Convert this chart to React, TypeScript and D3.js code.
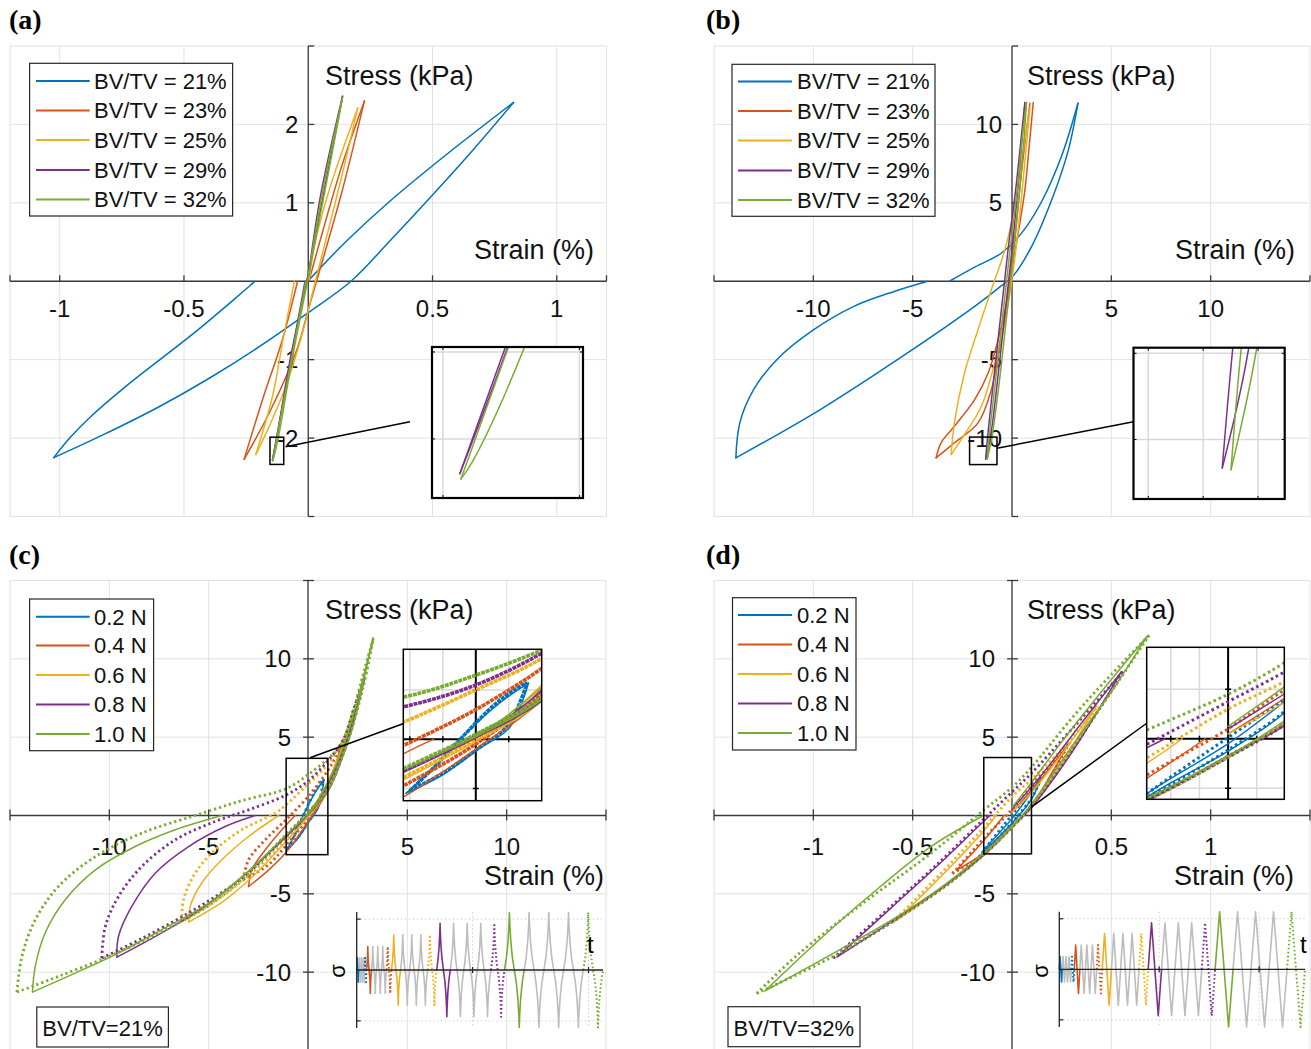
import React from 'react';
import * as d3 from 'd3';

type P = [number, number];
type Branch = P[];

const COLORS = ['#0072BD', '#D95319', '#EDB120', '#7E2F8E', '#77AC30'];
const GRID = '#e2e2e2';
const AXIS = '#3a3a3a';
const SIG_GREY = '#bdbdbd';
const FONT = '"Liberation Sans", Arial, Helvetica, sans-serif';
const SERIF = '"Liberation Serif", "Times New Roman", serif';

const bvtvLabels = ['BV/TV = 21%', 'BV/TV = 23%', 'BV/TV = 25%', 'BV/TV = 29%', 'BV/TV = 32%'];
const forceLabels = ['0.2 N', '0.4 N', '0.6 N', '0.8 N', '1.0 N'];

const aXTicks = [-1, -0.5, 0.5, 1];
const aYTicks = [-2, -1, 1, 2];
const bXTicks = [-10, -5, 5, 10];
const bYTicks = [-10, -5, 5, 10];
const cXTicks = [-10, -5, 5, 10];
const cYTicks = [-10, -5, 5, 10];
const dXTicks = [-1, -0.5, 0.5, 1];
const dYTicks = [-10, -5, 5, 10];

// ---------- Panel (a): strain %, stress kPa ----------
const aBlueUpper: Branch = [[-1.024, -2.25], [-0.96, -2.0], [-0.88, -1.74], [-0.734, -1.34], [-0.444, -0.62], [-0.214, 0]];
const aBlueLower: Branch = [[-1.024, -2.25], [-0.82, -1.95], [-0.6, -1.6], [-0.4, -1.24], [-0.2, -0.84], [0, -0.4], [0.172, 0], [0.33, 0.52], [0.5, 1.1], [0.67, 1.7], [0.826, 2.28]];
const aBlueReturn: Branch = [[0.826, 2.28], [0.55, 1.6], [0.327, 1.017], [0.15, 0.5], [0.004, 0.02]];
const aRedUpper: Branch = [[-0.258, -2.27], [-0.184, -1.51], [-0.104, -0.745], [-0.043, 0]];
const aRedLower: Branch = [[-0.258, -2.27], [-0.157, -1.68], [-0.05, -0.91], [0.004, -0.32], [0.058, 0.27], [0.138, 1.17], [0.226, 2.3]];
const aRedReturn: Branch = [[0.226, 2.3], [0.138, 1.5], [0.071, 0.78], [0.004, 0.02]];
const aYelUpper: Branch = [[-0.211, -2.21], [-0.144, -1.47], [-0.1, -0.72], [-0.056, 0]];
const aYelLower: Branch = [[-0.211, -2.21], [-0.157, -1.85], [-0.09, -1.34], [-0.023, -0.66], [0.017, -0.15], [0.071, 0.53], [0.138, 1.38], [0.199, 2.21]];
const aYelReturn: Branch = [[0.199, 2.21], [0.085, 1.17], [0.024, 0.44], [0.004, 0.02]];
const aPurUpper: Branch = [[-0.1438, -2.28], [-0.1271, -1.9885], [-0.07, -1.0], [-0.013, 0]];
const aPurLower: Branch = [[-0.1438, -2.28], [-0.1263, -1.9885], [-0.07, -0.95], [0, 0.1], [0.07, 1.25], [0.138, 2.36]];
const aPurReturn: Branch = [[0.138, 2.36], [0.05, 1.1], [0, 0.05]];
const aGrnUpper: Branch = [[-0.1434, -2.292], [-0.126, -1.9885], [-0.068, -1.0], [-0.01, 0]];
const aGrnLower: Branch = [[-0.1434, -2.292], [-0.1395, -2.256], [-0.1201, -1.9885], [-0.065, -1.0], [0, 0.05], [0.07, 1.2], [0.138, 2.34]];
const aGrnReturn: Branch = [[0.138, 2.34], [0.055, 1.1], [0, 0.05]];

// ---------- Panel (b) ----------
const bBlueUpper: Branch = [[-13.9, -11.26], [-13.7, -9.03], [-13.0, -6.9], [-11.84, -5.0], [-9.98, -3.09], [-7.96, -1.6], [-5.93, -0.65], [-4.24, 0]];
const bBlueLower: Branch = [[-13.9, -11.26], [-9.65, -8.18], [-5.26, -4.57], [-1.88, -1.6], [-0.7, -0.45], [0.06, 0.35], [0.99, 2.22], [2.0, 5.19], [2.84, 8.38], [3.32, 11.35]];
const bBlueReturn: Branch = [[3.32, 11.35], [2.5, 8.0], [1.5, 5.1], [0.5, 3.1], [-0.53, 1.8], [-1.88, 0.9], [-3.15, 0]];
const bRedUpper: Branch = [[-3.82, -11.26], [-3.57, -10.3], [-2.9, -9.25], [-1.88, -7.55], [-1.2, -5.85], [-0.7, -3.73], [-0.28, -1.39], [-0.03, 0.52], [0.31, 3.07], [0.65, 5.83], [0.88, 8.8], [1.07, 11.39]];
const bRedLower: Branch = [[-3.82, -11.26], [-2.9, -10.3], [-1.71, -9.03], [-1.04, -6.91], [-0.7, -4.79], [-0.36, -2.24], [-0.11, 0.1], [0.2, 3.5], [0.5, 7.2], [0.9, 11.35]];
const bYelUpper: Branch = [[-3.06, -11.05], [-2.9, -9.03], [-2.39, -5.85], [-1.71, -3.09], [-1.04, -0.54], [-0.36, 2.0], [0.14, 4.77], [0.5, 7.8], [0.9, 11.03]];
const bYelLower: Branch = [[-3.06, -11.05], [-2.56, -10.1], [-1.54, -7.97], [-0.87, -5.21], [-0.36, -2.66], [-0.03, -0.12], [0.31, 3.28], [0.6, 7.0], [0.9, 11.03]];
const bPurUpper: Branch = [[-1.326, -11.33], [-1.23, -9.935], [-0.9, -6], [-0.55, -2], [-0.2, 2], [0.2, 6], [0.45, 9], [0.65, 11.39]];
const bPurLower: Branch = [[-1.326, -11.33], [-1.084, -9.935], [-0.7, -6], [-0.35, -2], [0, 2], [0.3, 6], [0.5, 9], [0.65, 11.39]];
const bGrnUpper: Branch = [[-1.246, -11.35], [-1.153, -9.935], [-0.8, -6], [-0.45, -2], [-0.1, 2], [0.28, 6], [0.5, 9], [0.73, 11.39]];
const bGrnLower: Branch = [[-1.246, -11.35], [-1.011, -9.935], [-0.6, -6], [-0.25, -2], [0.1, 2], [0.4, 6], [0.6, 9], [0.73, 11.39]];

// ---------- Panel (c): BV/TV = 21%, five forces, solid + dotted ----------
const cBlueSolidUpper: Branch = [[-1.06, -2.2], [-0.66, -1.21], [-0.26, -0.05], [0.35, 1.44], [0.8, 2.28]];
const cBlueSolidLower: Branch = [[-1.06, -2.2], [-0.5, -1.45], [0.01, -0.46], [0.52, 0.49], [0.8, 2.28]];
const cBlueDotUpper: Branch = [[-1.0, -2.1], [-0.6, -1.05], [-0.2, 0.1], [0.35, 1.55], [0.78, 2.3]];
const cBlueDotLower: Branch = [[-1.0, -2.1], [-0.45, -1.3], [0.05, -0.35], [0.5, 0.6], [0.78, 2.3]];
const cRedSolidUpper: Branch = [[-2.99, -4.53], [-2.83, -3.47], [-2.15, -2.19], [-1.1, -0.6], [-0.64, 0]];
const cRedSolidLower: Branch = [[-2.99, -4.53], [-2.0, -3.5], [-1.1, -2.35], [0, -0.4], [1.0, 1.58], [1.4, 3.0], [1.67, 4.4]];
const cRedSolidReturn: Branch = [[1.67, 4.4], [1.2, 2.6], [0.6, 1.1], [0, 0.1]];
const cRedDotUpper: Branch = [[-3.25, -4.1], [-2.99, -2.83], [-2.15, -1.55], [-1.1, -0.26], [0, 1.2], [1.0, 2.87], [1.3, 3.5], [1.67, 4.4]];
const cRedDotLower: Branch = [[-3.25, -4.1], [-2.0, -3.15], [-1.1, -1.9], [0, -0.2], [1.0, 1.85], [1.4, 3.1], [1.67, 4.4]];
const cYelSolidUpper: Branch = [[-6.01, -6.8], [-5.93, -5.8], [-5.35, -4.31], [-4.34, -2.83], [-2.99, -1.34], [-1.48, 0]];
const cYelSolidLower: Branch = [[-6.01, -6.8], [-4.34, -5.55], [-2.66, -3.75], [-1.1, -1.65], [0, -0.1], [1.0, 1.55], [1.7, 3.9], [2.3, 6.75]];
const cYelSolidReturn: Branch = [[2.3, 6.75], [1.7, 4.3], [1.0, 2.2], [0.4, 0.8], [0, 0.1]];
const cYelDotUpper: Branch = [[-6.35, -6.76], [-6.27, -5.38], [-5.68, -3.68], [-4.67, -2.19], [-3.33, -0.91], [-1.65, 0.15], [-1.1, 0.69], [0, 2.0], [1.0, 3.28], [1.8, 4.9], [2.3, 6.75]];
const cYelDotLower: Branch = [[-6.35, -6.76], [-4.67, -5.45], [-2.99, -3.85], [-1.1, -1.55], [0, 0], [1.0, 1.7], [1.7, 4.0], [2.3, 6.75]];
const cPurSolidUpper: Branch = [[-9.62, -9.04], [-9.54, -7.72], [-8.87, -5.8], [-7.69, -3.68], [-6.01, -1.98], [-4.17, -0.7], [-2.66, 0]];
const cPurSolidLower: Branch = [[-9.62, -9.04], [-7.52, -7.6], [-5.35, -5.95], [-3.2, -3.8], [-1.1, -1.35], [0, 0.05], [1.0, 1.55], [1.7, 3.6], [2.3, 6.0], [2.84, 8.77]];
const cPurSolidReturn: Branch = [[2.84, 8.77], [2.2, 5.8], [1.5, 3.3], [0.7, 1.3], [0, 0.1]];
const cPurDotUpper: Branch = [[-10.38, -9.1], [-10.2, -7.08], [-9.54, -5.17], [-8.36, -3.25], [-6.68, -1.55], [-4.67, -0.38], [-2.99, 0.36], [-1.1, 1.31], [0, 2.2], [1.0, 3.49], [1.8, 4.9], [2.3, 6.8], [2.84, 8.77]];
const cPurDotLower: Branch = [[-10.38, -9.1], [-8.36, -7.85], [-5.85, -6.1], [-3.33, -4.0], [-1.1, -1.3], [0, 0.15], [1.0, 1.65], [1.7, 3.7], [2.3, 6.1], [2.84, 8.77]];
const cGrnSolidUpper: Branch = [[-13.87, -11.27], [-13.73, -9.64], [-13.23, -7.5], [-12.22, -5.38], [-10.7, -3.47], [-8.7, -1.98], [-6.68, -0.91], [-4.34, 0]];
const cGrnSolidLower: Branch = [[-13.87, -11.27], [-11.72, -10.06], [-9.54, -8.78], [-7.36, -7.29], [-5.0, -5.59], [-3.0, -3.55], [-1.1, -1.25], [0, 0.1], [1.0, 1.6], [1.6, 3.3], [2.2, 5.4], [2.73, 8.2], [3.27, 11.32]];
const cGrnSolidReturn: Branch = [[3.27, 11.32], [2.6, 7.9], [2.0, 5.2], [1.3, 2.9], [0.5, 1.0], [0, 0.15]];
const cGrnDotUpper: Branch = [[-14.65, -11.27], [-14.4, -9.0], [-13.73, -6.66], [-12.56, -4.53], [-10.7, -2.62], [-8.36, -1.12], [-5.68, 0], [-3.33, 0.95], [-1.1, 1.71], [0, 2.6], [1.0, 3.62], [1.6, 4.4], [2.2, 6.3], [2.75, 8.9], [3.3, 11.35]];
const cGrnDotLower: Branch = [[-14.65, -11.27], [-12.56, -10.27], [-10.04, -9.0], [-7.52, -7.5], [-5.0, -5.75], [-3.0, -3.7], [-1.1, -1.2], [0, 0.2], [1.0, 1.7], [1.6, 3.4], [2.2, 5.5], [2.8, 8.3], [3.3, 11.35]];

// ---------- Panel (d): BV/TV = 32% ----------
const dBlueSolidUpper: Branch = [[-0.155, -2.55], [-0.14, -2.2], [0, -0.2], [0.098, 1.5], [0.145, 2.4]];
const dBlueSolidLower: Branch = [[-0.155, -2.55], [-0.107, -1.88], [0, -0.5], [0.098, 1.05], [0.145, 2.4]];
const dBlueDotUpper: Branch = [[-0.165, -2.65], [-0.142, -2.23], [0, 0.05], [0.098, 1.6], [0.15, 2.45]];
const dBlueDotLower: Branch = [[-0.165, -2.65], [-0.1, -1.85], [0, -0.45], [0.098, 1.1], [0.15, 2.45]];
const dRedSolidUpper: Branch = [[-0.28, -3.49], [-0.142, -1.6], [-0.04, 0]];
const dRedSolidLower: Branch = [[-0.28, -3.49], [-0.142, -2.4], [0, -0.68], [0.098, 0.62], [0.2, 2.7], [0.286, 4.6]];
const dRedSolidReturn: Branch = [[0.286, 4.6], [0.15, 2.4], [0, 0.2]];
const dRedDotUpper: Branch = [[-0.3, -3.7], [-0.142, -1.47], [0, 0.4], [0.098, 1.97], [0.2, 3.3], [0.29, 4.65]];
const dRedDotLower: Branch = [[-0.3, -3.7], [-0.142, -2.45], [0, -0.7], [0.098, 0.6], [0.2, 2.6], [0.29, 4.65]];
const dYelSolidUpper: Branch = [[-0.58, -6.68], [-0.35, -3.8], [-0.142, -0.99], [-0.08, 0]];
const dYelSolidLower: Branch = [[-0.58, -6.68], [-0.33, -4.35], [-0.142, -2.45], [0, -0.7], [0.098, 0.6], [0.25, 3.3], [0.42, 6.93]];
const dYelSolidReturn: Branch = [[0.42, 6.93], [0.25, 3.9], [0.1, 1.5], [0, 0.2]];
const dYelDotUpper: Branch = [[-0.6, -6.8], [-0.35, -3.6], [-0.142, -0.78], [0, 1.2], [0.098, 2.31], [0.3, 4.9], [0.43, 7.0]];
const dYelDotLower: Branch = [[-0.6, -6.8], [-0.33, -4.4], [-0.142, -2.5], [0, -0.75], [0.098, 0.6], [0.25, 3.2], [0.43, 7.0]];
const dPurSolidUpper: Branch = [[-0.88, -9.02], [-0.6, -5.8], [-0.35, -2.9], [-0.142, -0.37], [-0.11, 0]];
const dPurSolidLower: Branch = [[-0.88, -9.02], [-0.58, -6.55], [-0.33, -4.4], [-0.142, -2.5], [0, -0.7], [0.098, 0.52], [0.3, 4.0], [0.55, 9.16]];
const dPurSolidReturn: Branch = [[0.55, 9.16], [0.35, 5.9], [0.15, 2.6], [0, 0.4]];
const dPurDotUpper: Branch = [[-0.9, -9.1], [-0.6, -5.7], [-0.35, -2.8], [-0.142, -0.23], [0, 1.5], [0.098, 2.7], [0.3, 5.5], [0.56, 9.2]];
const dPurDotLower: Branch = [[-0.9, -9.1], [-0.58, -6.6], [-0.33, -4.45], [-0.142, -2.5], [0, -0.75], [0.098, 0.55], [0.3, 4.1], [0.56, 9.2]];
const dGrnSolidUpper: Branch = [[-1.243, -11.19], [-0.916, -7.31], [-0.664, -4.55], [-0.41, -2.0], [-0.144, 0]];
const dGrnSolidLower: Branch = [[-1.243, -11.19], [-0.916, -8.91], [-0.58, -6.47], [-0.33, -4.34], [-0.142, -2.4], [0, -0.7], [0.098, 0.73], [0.3, 4.4], [0.5, 7.9], [0.68, 11.44]];
const dGrnSolidReturn: Branch = [[0.68, 11.44], [0.45, 7.9], [0.25, 4.7], [0.098, 2.1], [0, 0.5]];
const dGrnDotUpper: Branch = [[-1.285, -11.36], [-1.08, -8.9], [-0.75, -5.6], [-0.41, -2.43], [-0.142, 0.35], [0, 1.8], [0.098, 3.07], [0.307, 6.3], [0.5, 9.0], [0.69, 11.5]];
const dGrnDotLower: Branch = [[-1.285, -11.36], [-0.916, -9.1], [-0.58, -6.6], [-0.33, -4.45], [-0.142, -2.5], [0, -0.75], [0.098, 0.65], [0.3, 4.3], [0.5, 7.9], [0.69, 11.5]];

// ---------- Loading history insets ----------
const sigPattern = ['solid', 'grey', 'grey', 'grey', 'dotted'];
const sigAmpC = [0.24, 0.46, 0.69, 0.92, 1.13];
const sigPeriodC = [0.17, 0.43, 0.78, 1.17, 1.7];
const sigAmpD = [0.25, 0.48, 0.71, 0.92, 1.14];
const sigPeriodD = [0.3, 0.56, 0.92, 1.34, 1.8];
const cycleShapeC: P[] = [[0, 0], [0.1, 0.22], [0.18, 0.5], [0.23, 0.8], [0.25, 1], [0.27, 0.8], [0.32, 0.5], [0.4, 0.22], [0.5, 0], [0.6, -0.22], [0.68, -0.5], [0.73, -0.8], [0.75, -1], [0.77, -0.8], [0.82, -0.5], [0.9, -0.22], [1, 0]];
const cycleShapeD: P[] = [[0, 0], [0.25, 1], [0.75, -1], [1, 0]];

interface SeriesDef { color: string; dotted: boolean; branches: Branch[] }
const S = (color: string, dotted: boolean, branches: Branch[]): SeriesDef => ({ color, dotted, branches });

const seriesA: SeriesDef[] = [
  S(COLORS[0], false, [aBlueUpper, aBlueLower, aBlueReturn]),
  S(COLORS[1], false, [aRedUpper, aRedLower, aRedReturn]),
  S(COLORS[2], false, [aYelUpper, aYelLower, aYelReturn]),
  S(COLORS[3], false, [aPurUpper, aPurLower, aPurReturn]),
  S(COLORS[4], false, [aGrnUpper, aGrnLower, aGrnReturn]),
];
const seriesB: SeriesDef[] = [
  S(COLORS[0], false, [bBlueUpper, bBlueLower, bBlueReturn]),
  S(COLORS[1], false, [bRedUpper, bRedLower]),
  S(COLORS[2], false, [bYelUpper, bYelLower]),
  S(COLORS[3], false, [bPurUpper, bPurLower]),
  S(COLORS[4], false, [bGrnUpper, bGrnLower]),
];
const seriesC: SeriesDef[] = [
  S(COLORS[0], false, [cBlueSolidUpper, cBlueSolidLower]),
  S(COLORS[0], true, [cBlueDotUpper, cBlueDotLower]),
  S(COLORS[1], false, [cRedSolidUpper, cRedSolidLower, cRedSolidReturn]),
  S(COLORS[1], true, [cRedDotUpper, cRedDotLower]),
  S(COLORS[2], false, [cYelSolidUpper, cYelSolidLower, cYelSolidReturn]),
  S(COLORS[2], true, [cYelDotUpper, cYelDotLower]),
  S(COLORS[3], false, [cPurSolidUpper, cPurSolidLower, cPurSolidReturn]),
  S(COLORS[3], true, [cPurDotUpper, cPurDotLower]),
  S(COLORS[4], false, [cGrnSolidUpper, cGrnSolidLower, cGrnSolidReturn]),
  S(COLORS[4], true, [cGrnDotUpper, cGrnDotLower]),
];
const seriesD: SeriesDef[] = [
  S(COLORS[0], false, [dBlueSolidUpper, dBlueSolidLower]),
  S(COLORS[0], true, [dBlueDotUpper, dBlueDotLower]),
  S(COLORS[1], false, [dRedSolidUpper, dRedSolidLower, dRedSolidReturn]),
  S(COLORS[1], true, [dRedDotUpper, dRedDotLower]),
  S(COLORS[2], false, [dYelSolidUpper, dYelSolidLower, dYelSolidReturn]),
  S(COLORS[2], true, [dYelDotUpper, dYelDotLower]),
  S(COLORS[3], false, [dPurSolidUpper, dPurSolidLower, dPurSolidReturn]),
  S(COLORS[3], true, [dPurDotUpper, dPurDotLower]),
  S(COLORS[4], false, [dGrnSolidUpper, dGrnSolidLower, dGrnSolidReturn]),
  S(COLORS[4], true, [dGrnDotUpper, dGrnDotLower]),
];

interface LineStyle { solidW: number; dotW: number; dash: string }

function SeriesPaths({ series, line, st, prefix }: { series: SeriesDef[]; line: any; st: LineStyle; prefix: string }) {
  return (
    <>
      {series.map((s, i) =>
        s.branches.map((b, j) => (
          <path
            key={`${prefix}-${i}-${j}`}
            d={line(b) || ''}
            fill="none"
            stroke={s.color}
            strokeWidth={s.dotted ? st.dotW : st.solidW}
            strokeDasharray={s.dotted ? st.dash : undefined}
            strokeLinejoin="round"
            strokeLinecap={s.dotted ? 'butt' : 'round'}
          />
        ))
      )}
    </>
  );
}

interface InsetCfg {
  box: [number, number, number, number];
  xDom: [number, number];
  yDom: [number, number];
  gridX: number[];
  gridY: number[];
  connector: [number, number, number, number];
  border: number;
  axesInside: boolean;
  st: LineStyle;
}

interface SigCfg {
  x0: number; x1: number; yTop: number; yBot: number; total: number;
  amps: number[]; periods: number[]; shape: P[]; ticks: number[];
  sigmaPos: [number, number]; tPos: [number, number];
}

interface PanelCfg {
  id: string;
  box: { l: number; t: number; r: number; b: number };
  xDom: [number, number]; yDom: [number, number];
  xTicks: number[]; yTicks: number[];
  tickBoth: boolean;
  xLabelBase: number; yLabelGap: number;
  label: string; labelPos: [number, number];
  stressPos: [number, number]; strainPos: [number, number];
  legend: { x: number; y: number; w: number; h: number; labels: string[]; rows: number[]; lx0: number; lx1: number; tx: number };
  series: SeriesDef[];
  st: LineStyle;
  inset: InsetCfg;
  bvtv?: { x: number; y: number; w: number; h: number; text: string };
  sig?: SigCfg;
}

function Inset({ cfg, series, xs, ys, id }: { cfg: InsetCfg; series: SeriesDef[]; xs: any; ys: any; id: string }) {
  const [bx0, by0, bx1, by1] = cfg.box;
  const ix = d3.scaleLinear().domain(cfg.xDom).range([bx0, bx1]);
  const iy = d3.scaleLinear().domain(cfg.yDom).range([by1, by0]);
  const line = d3.line<P>().x(d => ix(d[0])).y(d => iy(d[1])).curve(d3.curveCatmullRom.alpha(0.5));
  const clipId = `inset-clip-${id}`;
  const hasX0 = cfg.axesInside && cfg.xDom[0] < 0 && cfg.xDom[1] > 0;
  const hasY0 = cfg.axesInside && cfg.yDom[0] < 0 && cfg.yDom[1] > 0;
  const rx0 = xs(cfg.xDom[0]), rx1 = xs(cfg.xDom[1]);
  const ry0 = ys(cfg.yDom[1]), ry1 = ys(cfg.yDom[0]);
  return (
    <g>
      <rect x={rx0} y={ry0} width={rx1 - rx0} height={ry1 - ry0} fill="none" stroke="#000" strokeWidth={1.5} />
      <line x1={cfg.connector[0]} y1={cfg.connector[1]} x2={cfg.connector[2]} y2={cfg.connector[3]} stroke="#000" strokeWidth={1.5} />
      <defs>
        <clipPath id={clipId}>
          <rect x={bx0} y={by0} width={bx1 - bx0} height={by1 - by0} />
        </clipPath>
      </defs>
      <rect x={bx0} y={by0} width={bx1 - bx0} height={by1 - by0} fill="#fff" />
      <g clipPath={`url(#${clipId})`}>
        {cfg.gridX.map(v => (
          <line key={'igx' + v} x1={ix(v)} x2={ix(v)} y1={by0} y2={by1} stroke="#d9d9d9" strokeWidth={1.5} />
        ))}
        {cfg.gridY.map(v => (
          <line key={'igy' + v} y1={iy(v)} y2={iy(v)} x1={bx0} x2={bx1} stroke="#d9d9d9" strokeWidth={1.5} />
        ))}
        {hasY0 && <line x1={bx0} x2={bx1} y1={iy(0)} y2={iy(0)} stroke="#000" strokeWidth={2} />}
        {hasX0 && <line x1={ix(0)} x2={ix(0)} y1={by0} y2={by1} stroke="#000" strokeWidth={2} />}
        {hasY0 && cfg.gridX.filter(v => v !== 0).map(v => (
          <line key={'itx' + v} x1={ix(v)} x2={ix(v)} y1={iy(0) - 3} y2={iy(0) + 3} stroke="#000" strokeWidth={1.5} />
        ))}
        {hasX0 && cfg.gridY.filter(v => v !== 0).map(v => (
          <line key={'ity' + v} y1={iy(v)} y2={iy(v)} x1={ix(0) - 3} x2={ix(0) + 3} stroke="#000" strokeWidth={1.5} />
        ))}
        {!cfg.axesInside && cfg.gridX.map(v => (
          <g key={'btx' + v}>
            <line x1={ix(v)} x2={ix(v)} y1={by0} y2={by0 + 3} stroke="#000" strokeWidth={1} />
            <line x1={ix(v)} x2={ix(v)} y1={by1} y2={by1 - 3} stroke="#000" strokeWidth={1} />
          </g>
        ))}
        {!cfg.axesInside && cfg.gridY.map(v => (
          <g key={'bty' + v}>
            <line y1={iy(v)} y2={iy(v)} x1={bx0} x2={bx0 + 3} stroke="#000" strokeWidth={1} />
            <line y1={iy(v)} y2={iy(v)} x1={bx1} x2={bx1 - 3} stroke="#000" strokeWidth={1} />
          </g>
        ))}
        <SeriesPaths series={series} line={line} st={cfg.st} prefix={'in' + id} />
      </g>
      <rect x={bx0} y={by0} width={bx1 - bx0} height={by1 - by0} fill="none" stroke="#000" strokeWidth={cfg.border} />
    </g>
  );
}

function SignalInset({ cfg }: { cfg: SigCfg }) {
  const tx = d3.scaleLinear().domain([0, cfg.total]).range([cfg.x0, cfg.x1]);
  const ty = d3.scaleLinear().domain([-1.14, 1.14]).range([cfg.yBot, cfg.yTop]);
  const line = d3.line<P>().x(d => tx(d[0])).y(d => ty(d[1]));
  const pieces: { pts: P[]; color: string; kind: string }[] = [];
  let t = 0;
  cfg.amps.forEach((amp, k) => {
    const per = cfg.periods[k];
    sigPattern.forEach(kind => {
      const start = t;
      pieces.push({
        pts: cfg.shape.map(([u, v]) => [start + u * per, v * amp] as P),
        color: kind === 'grey' ? SIG_GREY : COLORS[k],
        kind,
      });
      t += per;
    });
  });
  const order = [...pieces.filter(p => p.kind === 'grey'), ...pieces.filter(p => p.kind !== 'grey')];
  return (
    <g>
      {[-1, 1].map(v => (
        <line key={'sg' + v} x1={cfg.x0} x2={cfg.x1} y1={ty(v)} y2={ty(v)} stroke="#cfcfcf" strokeWidth={1} strokeDasharray="1.5 2.5" />
      ))}
      {cfg.ticks.map(v => (
        <line key={'sv' + v} x1={tx(v)} x2={tx(v)} y1={cfg.yTop} y2={cfg.yBot} stroke="#cfcfcf" strokeWidth={1} strokeDasharray="1.5 2.5" />
      ))}
      {order.map((p, i) => (
        <path key={'sp' + i} d={line(p.pts) || ''} fill="none" stroke={p.color}
          strokeWidth={p.kind === 'dotted' ? 2 : 1.6}
          strokeDasharray={p.kind === 'dotted' ? '1.6 2.4' : undefined}
          strokeLinejoin="round" />
      ))}
      <line x1={cfg.x0} x2={cfg.x1} y1={ty(0)} y2={ty(0)} stroke="#222" strokeWidth={1.3} />
      <line x1={cfg.x0} x2={cfg.x0} y1={cfg.yTop} y2={cfg.yBot} stroke="#222" strokeWidth={1.3} />
      {cfg.ticks.map(v => (
        <line key={'st' + v} x1={tx(v)} x2={tx(v)} y1={ty(0) - 3} y2={ty(0) + 3} stroke="#222" strokeWidth={1.2} />
      ))}
      {[-1, 1].map(v => (
        <line key={'sy' + v} x1={cfg.x0} x2={cfg.x0 + 4} y1={ty(v)} y2={ty(v)} stroke="#222" strokeWidth={1.2} />
      ))}
      <text x={cfg.sigmaPos[0]} y={cfg.sigmaPos[1]} fontSize={22} textAnchor="middle"
        transform={`rotate(-90 ${cfg.sigmaPos[0]} ${cfg.sigmaPos[1]})`}>σ</text>
      <text x={cfg.tPos[0]} y={cfg.tPos[1]} fontSize={24}>t</text>
    </g>
  );
}

function Panel({ cfg }: { cfg: PanelCfg }) {
  const { box } = cfg;
  const xs = d3.scaleLinear().domain(cfg.xDom).range([box.l, box.r]);
  const ys = d3.scaleLinear().domain(cfg.yDom).range([box.b, box.t]);
  const line = d3.line<P>().x(d => xs(d[0])).y(d => ys(d[1])).curve(d3.curveCatmullRom.alpha(0.5));
  const X0 = xs(0), Y0 = ys(0);
  const clipId = `clip-${cfg.id}`;
  const gridX = [...cfg.xTicks, 0];
  const gridY = [...cfg.yTicks, 0];
  const tickXs = [...cfg.xTicks, ...cfg.xDom];
  const tickYs = [...cfg.yTicks, ...cfg.yDom];
  const down = cfg.tickBoth ? 5 : 0;
  const lg = cfg.legend;
  return (
    <g>
      <defs>
        <clipPath id={clipId}>
          <rect x={box.l} y={box.t} width={box.r - box.l} height={box.b - box.t} />
        </clipPath>
      </defs>
      {gridX.map(v => (
        <line key={'gx' + v} x1={xs(v)} x2={xs(v)} y1={box.t} y2={box.b} stroke={GRID} strokeWidth={1} />
      ))}
      {gridY.map(v => (
        <line key={'gy' + v} y1={ys(v)} y2={ys(v)} x1={box.l} x2={box.r} stroke={GRID} strokeWidth={1} />
      ))}
      <rect x={box.l} y={box.t} width={box.r - box.l} height={box.b - box.t} fill="none" stroke={GRID} strokeWidth={1} />
      <text x={cfg.labelPos[0]} y={cfg.labelPos[1]} fontFamily={SERIF} fontWeight="bold" fontSize={28}>{cfg.label}</text>
      {cfg.xTicks.map(v => (
        <text key={'xl' + v} x={xs(v)} y={cfg.xLabelBase} fontSize={24} textAnchor="middle" fill="#111">{String(v)}</text>
      ))}
      {cfg.yTicks.map(v => (
        <text key={'yl' + v} x={X0 - cfg.yLabelGap} y={ys(v) + 8.5} fontSize={24} textAnchor="end" fill="#111">{String(v)}</text>
      ))}
      <text x={cfg.stressPos[0]} y={cfg.stressPos[1]} fontSize={27} fill="#111">Stress (kPa)</text>
      <text x={cfg.strainPos[0]} y={cfg.strainPos[1]} fontSize={27} textAnchor="end" fill="#111">Strain (%)</text>
      <line x1={box.l} x2={box.r} y1={Y0} y2={Y0} stroke={AXIS} strokeWidth={1.3} />
      <line x1={X0} x2={X0} y1={box.t} y2={box.b} stroke={AXIS} strokeWidth={1.3} />
      {tickXs.map((v, i) => (
        <line key={'tx' + i} x1={xs(v)} x2={xs(v)} y1={Y0 - 6} y2={Y0 + down} stroke={AXIS} strokeWidth={1.3} />
      ))}
      {tickYs.map((v, i) => (
        <line key={'ty' + i} y1={ys(v)} y2={ys(v)} x1={X0 - down} x2={X0 + 6} stroke={AXIS} strokeWidth={1.3} />
      ))}
      <g clipPath={`url(#${clipId})`}>
        <SeriesPaths series={cfg.series} line={line} st={cfg.st} prefix={'m' + cfg.id} />
      </g>
      <g>
        <rect x={lg.x} y={lg.y} width={lg.w} height={lg.h} fill="#fff" stroke="#262626" strokeWidth={1.2} />
        {lg.labels.map((lab, i) => (
          <g key={'lg' + i}>
            <line x1={lg.lx0} x2={lg.lx1} y1={lg.rows[i]} y2={lg.rows[i]} stroke={COLORS[i]} strokeWidth={2} />
            <text x={lg.tx} y={lg.rows[i] + 7.8} fontSize={22} fill="#111">{lab}</text>
          </g>
        ))}
      </g>
      <Inset cfg={cfg.inset} series={cfg.series} xs={xs} ys={ys} id={cfg.id} />
      {cfg.bvtv && (
        <g>
          <rect x={cfg.bvtv.x} y={cfg.bvtv.y} width={cfg.bvtv.w} height={cfg.bvtv.h} fill="#fff" stroke="#262626" strokeWidth={1.2} />
          <text x={cfg.bvtv.x + 5.5} y={cfg.bvtv.y + 29} fontSize={22} fill="#111">{cfg.bvtv.text}</text>
        </g>
      )}
      {cfg.sig && <SignalInset cfg={cfg.sig} />}
    </g>
  );
}

const stAB: LineStyle = { solidW: 1.5, dotW: 2.6, dash: '2.4 3' };
const stCD: LineStyle = { solidW: 1.5, dotW: 2.8, dash: '2.2 3' };

const panels: PanelCfg[] = [
  {
    id: 'a', box: { l: 10, t: 46, r: 606.5, b: 516.5 }, xDom: [-1.2, 1.2], yDom: [-3, 3],
    xTicks: aXTicks, yTicks: aYTicks, tickBoth: false, xLabelBase: 317, yLabelGap: 10,
    label: '(a)', labelPos: [9, 29], stressPos: [325, 85], strainPos: [594, 259],
    legend: { x: 29.6, y: 63.3, w: 203, h: 152.7, labels: bvtvLabels, rows: [81, 110.5, 140, 170, 199.5], lx0: 36, lx1: 89.7, tx: 94 },
    series: seriesA, st: stAB,
    inset: { box: [432, 347, 583, 498], xDom: [-0.154, -0.0987], yDom: [-2.336, -1.9885], gridX: [-0.15, -0.1], gridY: [-2.2, -2.0], connector: [285.5, 446.7, 410, 421.7], border: 2.2, axesInside: false, st: { solidW: 1.5, dotW: 2.6, dash: '2.4 3' } },
  },
  {
    id: 'b', box: { l: 714, t: 46, r: 1310, b: 516.5 }, xDom: [-15, 15], yDom: [-15, 15],
    xTicks: bXTicks, yTicks: bYTicks, tickBoth: false, xLabelBase: 317, yLabelGap: 10,
    label: '(b)', labelPos: [706, 29], stressPos: [1027, 85], strainPos: [1295, 259],
    legend: { x: 732, y: 64.3, w: 203, h: 152, labels: bvtvLabels, rows: [81.5, 111, 140.5, 170.5, 200], lx0: 738, lx1: 792, tx: 797 },
    series: seriesB, st: stAB,
    inset: { box: [1133.5, 347.7, 1284.7, 499], xDom: [-2.135, -0.757], yDom: [-11.69, -9.935], gridX: [-2, -1.5, -1], gridY: [-11, -10], connector: [997, 448.3, 1133.5, 421.7], border: 2.2, axesInside: false, st: { solidW: 1.5, dotW: 2.6, dash: '2.4 3' } },
  },
  {
    id: 'c', box: { l: 10, t: 580.5, r: 606, b: 1050.5 }, xDom: [-15, 15], yDom: [-15, 15],
    xTicks: cXTicks, yTicks: cYTicks, tickBoth: true, xLabelBase: 855, yLabelGap: 17,
    label: '(c)', labelPos: [9, 564], stressPos: [325, 619], strainPos: [604, 885],
    legend: { x: 29.6, y: 599, w: 124, h: 151.7, labels: forceLabels, rows: [616.7, 645.5, 675, 704.5, 734], lx0: 36, lx1: 89.7, tx: 94 },
    series: seriesC, st: stCD,
    inset: { box: [403.3, 649.3, 541.7, 800.7], xDom: [-1.1, 1.0], yDom: [-2.5, 3.65], gridX: [-1, -0.5, 0, 0.5], gridY: [-2, 0, 2], connector: [310, 757.7, 405, 723], border: 1.5, axesInside: true, st: { solidW: 1.4, dotW: 3.6, dash: '4 0.8' } },
    bvtv: { x: 36.8, y: 1007, w: 131.6, h: 40, text: 'BV/TV=21%' },
    sig: { x0: 356.7, x1: 603, yTop: 912, yBot: 1028, total: 21.25, amps: sigAmpC, periods: sigPeriodC, shape: cycleShapeC, ticks: [10, 20], sigmaPos: [345, 971], tPos: [587, 953] },
  },
  {
    id: 'd', box: { l: 714, t: 580.5, r: 1310, b: 1050.5 }, xDom: [-1.5, 1.5], yDom: [-15, 15],
    xTicks: dXTicks, yTicks: dYTicks, tickBoth: true, xLabelBase: 855, yLabelGap: 17,
    label: '(d)', labelPos: [706, 564], stressPos: [1027, 619], strainPos: [1294, 885],
    legend: { x: 732.5, y: 597.7, w: 123.5, h: 152.3, labels: forceLabels, rows: [615, 644.5, 674, 703.5, 733], lx0: 738, lx1: 792, tx: 797 },
    series: seriesD, st: stCD,
    inset: { box: [1146.7, 647.3, 1284.3, 799.3], xDom: [-0.142, 0.098], yDom: [-2.45, 3.7], gridX: [-0.1, -0.05, 0, 0.05], gridY: [-2, 0, 2], connector: [1032, 806.7, 1147, 723], border: 1.5, axesInside: true, st: { solidW: 1.4, dotW: 3, dash: '2.6 3' } },
    bvtv: { x: 728, y: 1006.7, w: 132, h: 40, text: 'BV/TV=32%' },
    sig: { x0: 1059.3, x1: 1305, yTop: 911.7, yBot: 1026.9, total: 24.6, amps: sigAmpD, periods: sigPeriodD, shape: cycleShapeD, ticks: [10, 20], sigmaPos: [1048, 971], tPos: [1300, 953] },
  },
];

export default function App() {
  return (
    <div>
      <style>{'body{margin:0;background:#fff}'}</style>
      <svg width={1311} height={1049} style={{ display: 'block' }} fontFamily={FONT}>
        <rect width={1311} height={1049} fill="#fff" />
        {panels.map(p => <Panel key={p.id} cfg={p} />)}
      </svg>
    </div>
  );
}
